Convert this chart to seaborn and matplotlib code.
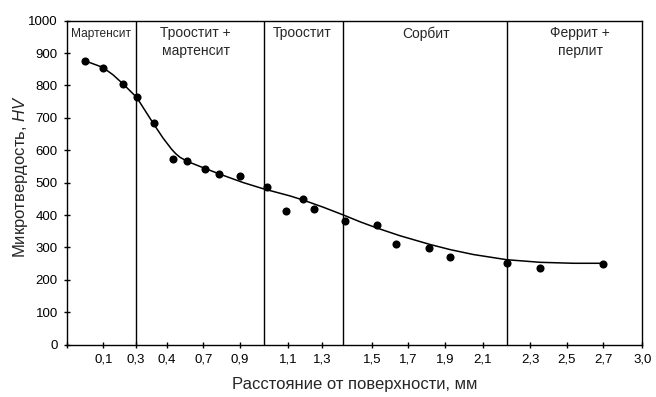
import numpy as np
import pandas as pd
import matplotlib
matplotlib.use("Agg")
import matplotlib.pyplot as plt
import seaborn as sns

# measured points (distance in axis units, microhardness HV)
dist = [0.094, 0.189, 0.294, 0.364, 0.454, 0.551, 0.625, 0.718, 0.795, 0.903,
        1.043, 1.143, 1.229, 1.289, 1.450, 1.619, 1.717, 1.890, 1.998, 2.297,
        2.468, 2.798]
hv = [876, 853, 804, 765, 683, 574, 566, 541, 527, 521,
      487, 413, 448, 418, 381, 369, 310, 297, 271, 253,
      235, 249]

# smooth trend curve as drawn
curve_x = [0.094, 0.186, 0.240, 0.294, 0.364, 0.450, 0.502, 0.546, 0.568, 0.590,
           0.630, 0.685, 0.798, 0.920, 1.024, 1.163, 1.233, 1.337, 1.442, 1.529,
           1.616, 1.737, 1.894, 2.000, 2.120, 2.294, 2.468, 2.642, 2.798]
curve_y = [876, 856, 833, 804, 763, 683, 637, 603, 589, 578,
           565, 552, 526, 500, 481, 459, 446, 424, 400, 379,
           360, 336, 309, 293, 278, 262, 254, 251, 251]

# structure zones
zone_edges = [0.360, 1.028, 1.440, 2.296]
zone_names = ["Мартенсит", "Троостит +\nмартенсит", "Троостит", "Сорбит", "Феррит +\nперлит"]
zone_label_x = [0.178, 0.672, 1.226, 1.873, 2.677]

tick_pos = [0.190, 0.360, 0.520, 0.711, 0.903, 1.155, 1.329, 1.590, 1.781,
            1.972, 2.169, 2.416, 2.607, 2.798, 3.0]
tick_labels = ["0,1", "0,3", "0,4", "0,7", "0,9", "1,1", "1,3", "1,5", "1,7",
               "1,9", "2,1", "2,3", "2,5", "2,7", "3,0"]

sns.set_style("ticks")
plt.rcParams["font.family"] = ["Liberation Sans", "DejaVu Sans"]
plt.rcParams["mathtext.fontset"] = "custom"
plt.rcParams["mathtext.it"] = "Liberation Sans:italic"
plt.rcParams["mathtext.rm"] = "Liberation Sans"

fig = plt.figure(figsize=(6.56, 3.97), dpi=100)
ax = fig.add_axes([0.102, 0.132, 0.877, 0.816])

pts = pd.DataFrame({"x": dist, "y": hv})
crv = pd.DataFrame({"x": curve_x, "y": curve_y})
sns.lineplot(data=crv, x="x", y="y", ax=ax, color="black", lw=1.1, sort=False)
sns.scatterplot(data=pts, x="x", y="y", ax=ax, color="black", s=34,
                edgecolor="black", linewidth=0, zorder=3)

for e in zone_edges:
    ax.axvline(e, color="black", lw=1.0)

for i, (name, xl) in enumerate(zip(zone_names, zone_label_x)):
    # the first zone is narrow, its label is squeezed in the source
    ax.text(xl, 977 if i == 0 else 982, name, ha="center", va="top",
            fontsize=8.6 if i == 0 else 10, linespacing=1.3)

ax.set_xlim(0, 3.0)
ax.set_ylim(0, 1000)
ax.set_yticks(np.arange(0, 1001, 100))
ax.set_xticks([0] + tick_pos)
ax.set_xticklabels([""] + tick_labels)
ax.tick_params(axis="both", direction="inout", length=5, width=1,
               labelsize=9.5, colors="black", pad=4)
for s in ax.spines.values():
    s.set_linewidth(1.0)
    s.set_color("black")

ax.set_xlabel("Расстояние от поверхности, мм", fontsize=12)
ax.set_ylabel("Микротвердость, $\\it{HV}$", fontsize=12)
ax.xaxis.set_label_coords(0.5, -0.100)
ax.yaxis.set_label_coords(-0.064, 0.52)

fig.savefig("out.png", dpi=100)
